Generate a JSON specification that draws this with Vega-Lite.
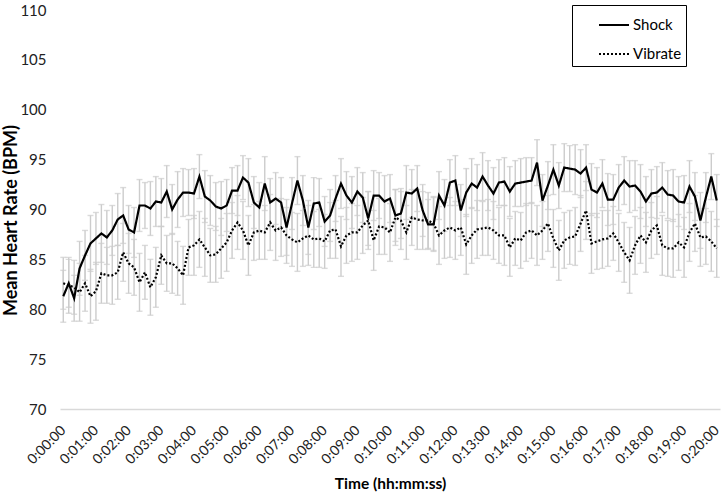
{
  "$schema": "https://vega.github.io/schema/vega-lite/v6.json",
  "width": 660,
  "height": 399,
  "autosize": {"type": "none"},
  "padding": {"left": 60, "top": 10, "right": 6, "bottom": 84},
  "background": "white",
  "config": {
    "view": {"stroke": null},
    "font": "Lato",
    "axis": {"labelFont": "Lato", "titleFont": "Lato", "labelColor": "#222222", "titleColor": "#000000"},
    "legend": {"labelFont": "Lato"}
  },
  "data": {"values": [
{"t":0,"s":"Shock","m":81.3,"e":2.6},{"t":10,"s":"Shock","m":82.6,"e":2.4},{"t":20,"s":"Shock","m":81.1,"e":2.3},{"t":30,"s":"Shock","m":84.1,"e":2.7},{"t":40,"s":"Shock","m":85.4,"e":2.5},{"t":50,"s":"Shock","m":86.6,"e":2.8},{"t":60,"s":"Shock","m":87.1,"e":2.6},{"t":70,"s":"Shock","m":87.6,"e":2.9},{"t":80,"s":"Shock","m":87.2,"e":2.7},{"t":90,"s":"Shock","m":87.9,"e":2.5},
{"t":100,"s":"Shock","m":89.0,"e":2.6},{"t":110,"s":"Shock","m":89.4,"e":2.8},{"t":120,"s":"Shock","m":88.0,"e":2.4},{"t":130,"s":"Shock","m":87.7,"e":2.5},{"t":140,"s":"Shock","m":90.4,"e":2.6},{"t":150,"s":"Shock","m":90.4,"e":2.3},{"t":160,"s":"Shock","m":90.1,"e":2.7},{"t":170,"s":"Shock","m":90.8,"e":2.5},{"t":180,"s":"Shock","m":90.7,"e":2.4},{"t":190,"s":"Shock","m":91.8,"e":2.6},
{"t":200,"s":"Shock","m":90.0,"e":2.5},{"t":210,"s":"Shock","m":91.0,"e":2.8},{"t":220,"s":"Shock","m":91.7,"e":2.4},{"t":230,"s":"Shock","m":91.7,"e":2.3},{"t":240,"s":"Shock","m":91.6,"e":2.5},{"t":250,"s":"Shock","m":93.3,"e":2.2},{"t":260,"s":"Shock","m":91.3,"e":2.6},{"t":270,"s":"Shock","m":90.9,"e":2.5},{"t":280,"s":"Shock","m":90.3,"e":2.4},{"t":290,"s":"Shock","m":90.1,"e":2.7},
{"t":300,"s":"Shock","m":90.4,"e":2.6},{"t":310,"s":"Shock","m":91.9,"e":2.3},{"t":320,"s":"Shock","m":91.9,"e":2.5},{"t":330,"s":"Shock","m":93.2,"e":2.2},{"t":340,"s":"Shock","m":92.7,"e":2.4},{"t":350,"s":"Shock","m":90.7,"e":2.6},{"t":360,"s":"Shock","m":90.2,"e":2.5},{"t":370,"s":"Shock","m":92.6,"e":2.7},{"t":380,"s":"Shock","m":90.7,"e":2.4},{"t":390,"s":"Shock","m":91.1,"e":2.6},
{"t":400,"s":"Shock","m":90.7,"e":2.5},{"t":410,"s":"Shock","m":88.2,"e":2.8},{"t":420,"s":"Shock","m":90.6,"e":2.6},{"t":430,"s":"Shock","m":92.9,"e":2.4},{"t":440,"s":"Shock","m":90.9,"e":2.5},{"t":450,"s":"Shock","m":88.2,"e":2.7},{"t":460,"s":"Shock","m":90.6,"e":2.6},{"t":470,"s":"Shock","m":90.7,"e":2.4},{"t":480,"s":"Shock","m":88.8,"e":2.5},{"t":490,"s":"Shock","m":89.4,"e":2.6},
{"t":500,"s":"Shock","m":91.1,"e":2.3},{"t":510,"s":"Shock","m":92.6,"e":2.5},{"t":520,"s":"Shock","m":91.4,"e":2.4},{"t":530,"s":"Shock","m":90.7,"e":2.6},{"t":540,"s":"Shock","m":91.8,"e":2.4},{"t":550,"s":"Shock","m":91.2,"e":2.5},{"t":560,"s":"Shock","m":89.1,"e":2.7},{"t":570,"s":"Shock","m":91.4,"e":2.5},{"t":580,"s":"Shock","m":91.4,"e":2.3},{"t":590,"s":"Shock","m":90.8,"e":2.6},
{"t":600,"s":"Shock","m":91.1,"e":2.4},{"t":610,"s":"Shock","m":89.4,"e":2.6},{"t":620,"s":"Shock","m":89.6,"e":2.5},{"t":630,"s":"Shock","m":91.7,"e":2.7},{"t":640,"s":"Shock","m":91.6,"e":2.4},{"t":650,"s":"Shock","m":92.1,"e":2.3},{"t":660,"s":"Shock","m":89.9,"e":2.6},{"t":670,"s":"Shock","m":88.5,"e":2.5},{"t":680,"s":"Shock","m":88.5,"e":2.7},{"t":690,"s":"Shock","m":91.4,"e":2.4},
{"t":700,"s":"Shock","m":90.4,"e":2.6},{"t":710,"s":"Shock","m":92.7,"e":2.3},{"t":720,"s":"Shock","m":92.9,"e":2.5},{"t":730,"s":"Shock","m":89.9,"e":2.6},{"t":740,"s":"Shock","m":91.7,"e":2.4},{"t":750,"s":"Shock","m":92.6,"e":2.5},{"t":760,"s":"Shock","m":92.2,"e":2.3},{"t":770,"s":"Shock","m":93.3,"e":2.4},{"t":780,"s":"Shock","m":92.4,"e":2.5},{"t":790,"s":"Shock","m":91.6,"e":2.6},
{"t":800,"s":"Shock","m":92.7,"e":2.3},{"t":810,"s":"Shock","m":92.8,"e":2.4},{"t":820,"s":"Shock","m":91.8,"e":2.5},{"t":830,"s":"Shock","m":92.6,"e":2.3},{"t":840,"s":"Shock","m":92.7,"e":2.4},{"t":850,"s":"Shock","m":92.8,"e":2.4},{"t":860,"s":"Shock","m":92.9,"e":2.3},{"t":870,"s":"Shock","m":94.7,"e":2.3},{"t":880,"s":"Shock","m":90.9,"e":2.6},{"t":890,"s":"Shock","m":92.4,"e":2.4},
{"t":900,"s":"Shock","m":94.0,"e":2.5},{"t":910,"s":"Shock","m":92.4,"e":2.3},{"t":920,"s":"Shock","m":94.2,"e":2.4},{"t":930,"s":"Shock","m":94.1,"e":2.3},{"t":940,"s":"Shock","m":94.0,"e":2.5},{"t":950,"s":"Shock","m":93.6,"e":2.4},{"t":960,"s":"Shock","m":94.2,"e":2.3},{"t":970,"s":"Shock","m":92.0,"e":2.6},{"t":980,"s":"Shock","m":91.7,"e":2.5},{"t":990,"s":"Shock","m":92.6,"e":2.4},
{"t":1000,"s":"Shock","m":91.0,"e":2.6},{"t":1010,"s":"Shock","m":91.0,"e":2.5},{"t":1020,"s":"Shock","m":92.2,"e":2.3},{"t":1030,"s":"Shock","m":92.9,"e":2.4},{"t":1040,"s":"Shock","m":92.3,"e":2.6},{"t":1050,"s":"Shock","m":92.4,"e":2.5},{"t":1060,"s":"Shock","m":91.8,"e":2.7},{"t":1070,"s":"Shock","m":90.8,"e":2.5},{"t":1080,"s":"Shock","m":91.6,"e":2.4},{"t":1090,"s":"Shock","m":91.7,"e":2.6},
{"t":1100,"s":"Shock","m":92.2,"e":2.5},{"t":1110,"s":"Shock","m":91.5,"e":2.4},{"t":1120,"s":"Shock","m":91.4,"e":2.6},{"t":1130,"s":"Shock","m":90.8,"e":2.5},{"t":1140,"s":"Shock","m":90.7,"e":2.7},{"t":1150,"s":"Shock","m":92.3,"e":2.6},{"t":1160,"s":"Shock","m":91.3,"e":2.4},{"t":1170,"s":"Shock","m":88.9,"e":2.8},{"t":1180,"s":"Shock","m":91.2,"e":2.5},{"t":1190,"s":"Shock","m":93.3,"e":2.3},
{"t":1200,"s":"Shock","m":90.9,"e":2.6},
{"t":0,"s":"Vibrate","m":82.6,"e":2.6},{"t":10,"s":"Vibrate","m":82.4,"e":2.8},{"t":20,"s":"Vibrate","m":82.2,"e":2.7},{"t":30,"s":"Vibrate","m":81.7,"e":2.9},{"t":40,"s":"Vibrate","m":82.6,"e":2.8},{"t":50,"s":"Vibrate","m":81.3,"e":2.7},{"t":60,"s":"Vibrate","m":81.8,"e":2.9},{"t":70,"s":"Vibrate","m":83.6,"e":3.0},{"t":80,"s":"Vibrate","m":83.4,"e":2.8},{"t":90,"s":"Vibrate","m":83.4,"e":2.9},
{"t":100,"s":"Vibrate","m":83.7,"e":2.7},{"t":110,"s":"Vibrate","m":85.7,"e":2.9},{"t":120,"s":"Vibrate","m":84.6,"e":3.0},{"t":130,"s":"Vibrate","m":84.2,"e":2.8},{"t":140,"s":"Vibrate","m":82.7,"e":2.9},{"t":150,"s":"Vibrate","m":83.7,"e":2.7},{"t":160,"s":"Vibrate","m":82.2,"e":2.8},{"t":170,"s":"Vibrate","m":83.2,"e":3.0},{"t":180,"s":"Vibrate","m":85.4,"e":2.9},{"t":190,"s":"Vibrate","m":84.6,"e":2.8},
{"t":200,"s":"Vibrate","m":84.6,"e":3.0},{"t":210,"s":"Vibrate","m":84.1,"e":2.7},{"t":220,"s":"Vibrate","m":83.4,"e":2.9},{"t":230,"s":"Vibrate","m":86.2,"e":2.8},{"t":240,"s":"Vibrate","m":86.4,"e":3.0},{"t":250,"s":"Vibrate","m":87.0,"e":2.8},{"t":260,"s":"Vibrate","m":86.2,"e":2.9},{"t":270,"s":"Vibrate","m":85.4,"e":2.7},{"t":280,"s":"Vibrate","m":85.5,"e":2.8},{"t":290,"s":"Vibrate","m":86.1,"e":3.0},
{"t":300,"s":"Vibrate","m":86.7,"e":2.9},{"t":310,"s":"Vibrate","m":87.9,"e":2.8},{"t":320,"s":"Vibrate","m":88.7,"e":2.7},{"t":330,"s":"Vibrate","m":87.9,"e":2.9},{"t":340,"s":"Vibrate","m":86.4,"e":3.0},{"t":350,"s":"Vibrate","m":87.7,"e":2.8},{"t":360,"s":"Vibrate","m":87.9,"e":2.9},{"t":370,"s":"Vibrate","m":87.7,"e":2.7},{"t":380,"s":"Vibrate","m":88.7,"e":2.8},{"t":390,"s":"Vibrate","m":87.9,"e":3.0},
{"t":400,"s":"Vibrate","m":88.2,"e":2.9},{"t":410,"s":"Vibrate","m":87.4,"e":2.8},{"t":420,"s":"Vibrate","m":87.0,"e":2.7},{"t":430,"s":"Vibrate","m":86.7,"e":2.9},{"t":440,"s":"Vibrate","m":87.1,"e":2.8},{"t":450,"s":"Vibrate","m":87.4,"e":3.0},{"t":460,"s":"Vibrate","m":87.0,"e":2.8},{"t":470,"s":"Vibrate","m":87.1,"e":2.9},{"t":480,"s":"Vibrate","m":86.8,"e":2.7},{"t":490,"s":"Vibrate","m":87.9,"e":2.8},
{"t":500,"s":"Vibrate","m":88.0,"e":2.9},{"t":510,"s":"Vibrate","m":86.3,"e":3.0},{"t":520,"s":"Vibrate","m":87.4,"e":2.8},{"t":530,"s":"Vibrate","m":87.7,"e":2.9},{"t":540,"s":"Vibrate","m":87.7,"e":2.7},{"t":550,"s":"Vibrate","m":88.4,"e":2.8},{"t":560,"s":"Vibrate","m":88.9,"e":2.9},{"t":570,"s":"Vibrate","m":86.9,"e":3.0},{"t":580,"s":"Vibrate","m":88.3,"e":2.8},{"t":590,"s":"Vibrate","m":88.2,"e":2.7},
{"t":600,"s":"Vibrate","m":87.7,"e":2.9},{"t":610,"s":"Vibrate","m":89.2,"e":2.8},{"t":620,"s":"Vibrate","m":88.9,"e":2.9},{"t":630,"s":"Vibrate","m":87.7,"e":2.7},{"t":640,"s":"Vibrate","m":89.2,"e":2.8},{"t":650,"s":"Vibrate","m":89.0,"e":3.0},{"t":660,"s":"Vibrate","m":88.9,"e":2.9},{"t":670,"s":"Vibrate","m":88.9,"e":2.8},{"t":680,"s":"Vibrate","m":88.6,"e":2.7},{"t":690,"s":"Vibrate","m":87.4,"e":2.9},
{"t":700,"s":"Vibrate","m":87.9,"e":2.8},{"t":710,"s":"Vibrate","m":88.2,"e":3.0},{"t":720,"s":"Vibrate","m":87.9,"e":2.9},{"t":730,"s":"Vibrate","m":88.2,"e":2.8},{"t":740,"s":"Vibrate","m":86.5,"e":3.0},{"t":750,"s":"Vibrate","m":87.4,"e":2.8},{"t":760,"s":"Vibrate","m":88.0,"e":2.9},{"t":770,"s":"Vibrate","m":88.1,"e":2.7},{"t":780,"s":"Vibrate","m":88.2,"e":2.8},{"t":790,"s":"Vibrate","m":87.9,"e":2.9},
{"t":800,"s":"Vibrate","m":87.4,"e":2.8},{"t":810,"s":"Vibrate","m":87.4,"e":3.0},{"t":820,"s":"Vibrate","m":86.2,"e":2.9},{"t":830,"s":"Vibrate","m":87.1,"e":2.7},{"t":840,"s":"Vibrate","m":86.9,"e":2.8},{"t":850,"s":"Vibrate","m":87.7,"e":2.9},{"t":860,"s":"Vibrate","m":87.9,"e":2.8},{"t":870,"s":"Vibrate","m":87.4,"e":3.0},{"t":880,"s":"Vibrate","m":87.9,"e":2.9},{"t":890,"s":"Vibrate","m":88.6,"e":2.8},
{"t":900,"s":"Vibrate","m":87.1,"e":2.9},{"t":910,"s":"Vibrate","m":85.9,"e":3.0},{"t":920,"s":"Vibrate","m":86.9,"e":2.8},{"t":930,"s":"Vibrate","m":87.2,"e":2.7},{"t":940,"s":"Vibrate","m":87.3,"e":2.9},{"t":950,"s":"Vibrate","m":88.6,"e":2.8},{"t":960,"s":"Vibrate","m":89.9,"e":2.9},{"t":970,"s":"Vibrate","m":86.6,"e":3.0},{"t":980,"s":"Vibrate","m":86.8,"e":2.8},{"t":990,"s":"Vibrate","m":87.0,"e":2.9},
{"t":1000,"s":"Vibrate","m":87.1,"e":2.8},{"t":1010,"s":"Vibrate","m":87.6,"e":2.7},{"t":1020,"s":"Vibrate","m":86.7,"e":2.9},{"t":1030,"s":"Vibrate","m":85.7,"e":3.0},{"t":1040,"s":"Vibrate","m":84.9,"e":3.3},{"t":1050,"s":"Vibrate","m":86.4,"e":2.9},{"t":1060,"s":"Vibrate","m":87.4,"e":2.8},{"t":1070,"s":"Vibrate","m":86.7,"e":3.0},{"t":1080,"s":"Vibrate","m":87.9,"e":2.8},{"t":1090,"s":"Vibrate","m":88.4,"e":2.9},
{"t":1100,"s":"Vibrate","m":86.4,"e":3.0},{"t":1110,"s":"Vibrate","m":86.1,"e":2.8},{"t":1120,"s":"Vibrate","m":86.1,"e":2.9},{"t":1130,"s":"Vibrate","m":86.7,"e":2.8},{"t":1140,"s":"Vibrate","m":86.2,"e":3.0},{"t":1150,"s":"Vibrate","m":87.7,"e":2.9},{"t":1160,"s":"Vibrate","m":88.6,"e":2.8},{"t":1170,"s":"Vibrate","m":87.2,"e":2.9},{"t":1180,"s":"Vibrate","m":87.3,"e":2.8},{"t":1190,"s":"Vibrate","m":86.8,"e":3.0},
{"t":1200,"s":"Vibrate","m":86.1,"e":2.9}
  ]},
  "encoding": {
    "x": {
      "field": "t", "type": "quantitative",
      "scale": {"domain": [-6, 1206], "nice": false, "zero": false},
      "axis": {
        "values": [0,60,120,180,240,300,360,420,480,540,600,660,720,780,840,900,960,1020,1080,1140,1200],
        "labelExpr": "'0:' + (datum.value < 600 ? '0' : '') + floor(datum.value / 60) + ':00'",
        "labelAngle": -45, "labelAlign": "right", "labelBaseline": "middle",
        "labelFontSize": 14, "labelPadding": 19, "labelOverlap": false, "labelBound": false,
        "ticks": false, "grid": false,
        "domainColor": "#d9d9d9", "domainWidth": 1.3,
        "title": "Time (hh:mm:ss)", "titleFontSize": 15.5, "titleFontWeight": "bold",
        "titleY": 79, "titleBaseline": "alphabetic"
      }
    },
    "y": {
      "field": "m", "type": "quantitative",
      "scale": {"domain": [70, 110], "nice": false, "zero": false},
      "axis": {
        "values": [70,75,80,85,90,95,100,105,110],
        "labelFontSize": 15, "labelPadding": 14,
        "ticks": false, "grid": false, "domain": false,
        "title": "Mean Heart Rate (BPM)", "titleFontSize": 18, "titleFontWeight": "bold",
        "titleAngle": -90, "titleAlign": "center", "titleBaseline": "middle",
        "titleX": -49, "titleY": 210
      }
    }
  },
  "layer": [
    {
      "mark": {"type": "errorbar", "color": "#cccccc", "thickness": 1.4, "ticks": {"size": 6, "color": "#cccccc", "thickness": 1.4}},
      "encoding": {
        "yError": {"field": "e"}
      }
    },
    {
      "mark": {"type": "line", "color": "black", "strokeWidth": 2.2},
      "encoding": {
        "strokeDash": {
          "field": "s", "type": "nominal",
          "scale": {"domain": ["Shock", "Vibrate"], "range": [{"expr": "[1, 0]"}, {"expr": "[2, 2]"}]},
          "legend": {
            "title": null, "orient": "none", "legendX": 512, "legendY": -5,
            "strokeColor": "black", "fillColor": "white",
            "padding": 4, "symbolOffset": 22,
            "symbolType": "stroke", "symbolSize": 900, "symbolStrokeWidth": 2,
            "symbolStrokeColor": "black",
            "labelFontSize": 15, "labelColor": "#000000", "labelOffset": 3,
            "rowPadding": 5
          }
        }
      }
    }
  ]
}
